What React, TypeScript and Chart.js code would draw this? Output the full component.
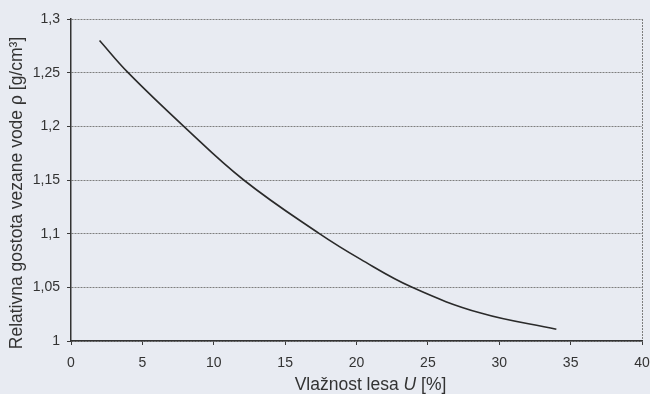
import { useEffect, useRef } from "react";
import { Chart, registerables } from "chart.js";

Chart.register(...registerables);

// Wood moisture content U [%] and relative density of bound water rho [g/cm3]
const moisture = [2, 4, 7.9, 12.1, 17.4, 20.3, 23.9, 28.7, 34];
const density = [1.28, 1.25, 1.2, 1.15, 1.1, 1.076, 1.05, 1.026, 1.011];

const xTicks = [0, 5, 10, 15, 20, 25, 30, 35, 40];
const yTicks = [1, 1.05, 1.1, 1.15, 1.2, 1.25, 1.3];

const xTitleParts = ["Vlažnost lesa ", "U", " [%]"];
const yTitle = "Relativna gostota vezane vode ρ [g/cm³]";

const FONT = "'Liberation Sans', Arial, sans-serif";
const TEXT = "#333333";
const BG = "#e8ebf2";
const GRID = "#7e7e7e";

const fmt = (v: number) => String(Math.round(v * 100) / 100).replace(".", ",");

const background = {
  id: "paperBackground",
  beforeDraw(chart: Chart) {
    const { ctx, width, height } = chart;
    ctx.save();
    ctx.fillStyle = BG;
    ctx.fillRect(0, 0, width, height);
    ctx.restore();
  },
};

const axisTitles = {
  id: "axisTitles",
  afterDraw(chart: Chart) {
    const { ctx, chartArea } = chart;
    ctx.save();
    ctx.fillStyle = TEXT;
    ctx.textBaseline = "middle";

    // x title with italic symbol
    const normal = `17.5px ${FONT}`;
    const italic = `italic 17.5px ${FONT}`;
    const fonts = [normal, italic, normal];
    const widths = xTitleParts.map((t, i) => {
      ctx.font = fonts[i];
      return ctx.measureText(t).width;
    });
    const total = widths.reduce((a, b) => a + b, 0);
    let x = (chartArea.left + chartArea.right) / 2 + 14 - total / 2;
    const y = chartArea.bottom + 44;
    ctx.textAlign = "left";
    xTitleParts.forEach((t, i) => {
      ctx.font = fonts[i];
      ctx.fillText(t, x, y);
      x += widths[i];
    });

    // y title, rotated
    ctx.font = normal;
    ctx.textAlign = "center";
    ctx.translate(17, (chartArea.top + chartArea.bottom) / 2 + 13);
    ctx.rotate(-Math.PI / 2);
    ctx.fillText(yTitle, 0, 0);
    ctx.restore();
  },
};

export default function App() {
  const ref = useRef<HTMLCanvasElement | null>(null);

  useEffect(() => {
    document.body.style.margin = "0";
    const canvas = ref.current;
    if (!canvas) return;

    const chart = new Chart(canvas, {
      type: "line",
      data: {
        datasets: [
          {
            data: moisture.map((u, i) => ({ x: u, y: density[i] })),
            borderColor: "#2a2a2a",
            borderWidth: 1.6,
            pointRadius: 0,
            fill: false,
            tension: 0.4,
          },
        ],
      },
      options: {
        animation: false,
        responsive: false,
        devicePixelRatio: 1,
        layout: { padding: { top: 19, right: 8, left: 0, bottom: 0 } },
        plugins: {
          legend: { display: false },
          tooltip: { enabled: false },
        },
        scales: {
          x: {
            type: "linear",
            min: 0,
            max: 40,
            afterFit: (s: any) => {
              s.height = 53;
              s.paddingLeft = 0;
              s.paddingRight = 0;
            },
            afterBuildTicks: (s: any) => {
              s.ticks = xTicks.map((v) => ({ value: v }));
            },
            ticks: {
              autoSkip: false,
              maxRotation: 0,
              padding: 10,
              color: TEXT,
              font: { family: FONT, size: 14 },
              callback: (v: any) => fmt(Number(v)),
            },
            grid: {
              drawOnChartArea: true,
              color: (c: any) =>
                c.tick && c.tick.value === 40 ? GRID : "rgba(0,0,0,0)",
              lineWidth: 1,
              tickColor: "#3a3a3a",
              tickLength: 4,
              tickWidth: 1,
              tickBorderDash: [],
            },
            border: { display: true, color: "#333", width: 1.5, dash: [2, 1] },
          },
          y: {
            type: "linear",
            min: 1,
            max: 1.3,
            afterFit: (s: any) => {
              s.width = 71;
              s.paddingTop = 0;
              s.paddingBottom = 0;
            },
            afterBuildTicks: (s: any) => {
              s.ticks = yTicks.map((v) => ({ value: v }));
            },
            ticks: {
              autoSkip: false,
              padding: 7,
              color: TEXT,
              font: { family: FONT, size: 14 },
              callback: (v: any) => fmt(Number(v)),
            },
            grid: {
              drawOnChartArea: true,
              color: GRID,
              lineWidth: 1,
              tickColor: "#3a3a3a",
              tickLength: 4,
              tickWidth: 1,
              tickBorderDash: [],
            },
            border: { display: true, color: "#333", width: 1.5, dash: [2, 1] },
          },
        },
      },
      plugins: [background, axisTitles],
    });

    return () => chart.destroy();
  }, []);

  return (
    <div style={{ position: "absolute", left: 0, top: 0, width: 650, height: 394 }}>
      <canvas ref={ref} width={650} height={394} />
    </div>
  );
}
